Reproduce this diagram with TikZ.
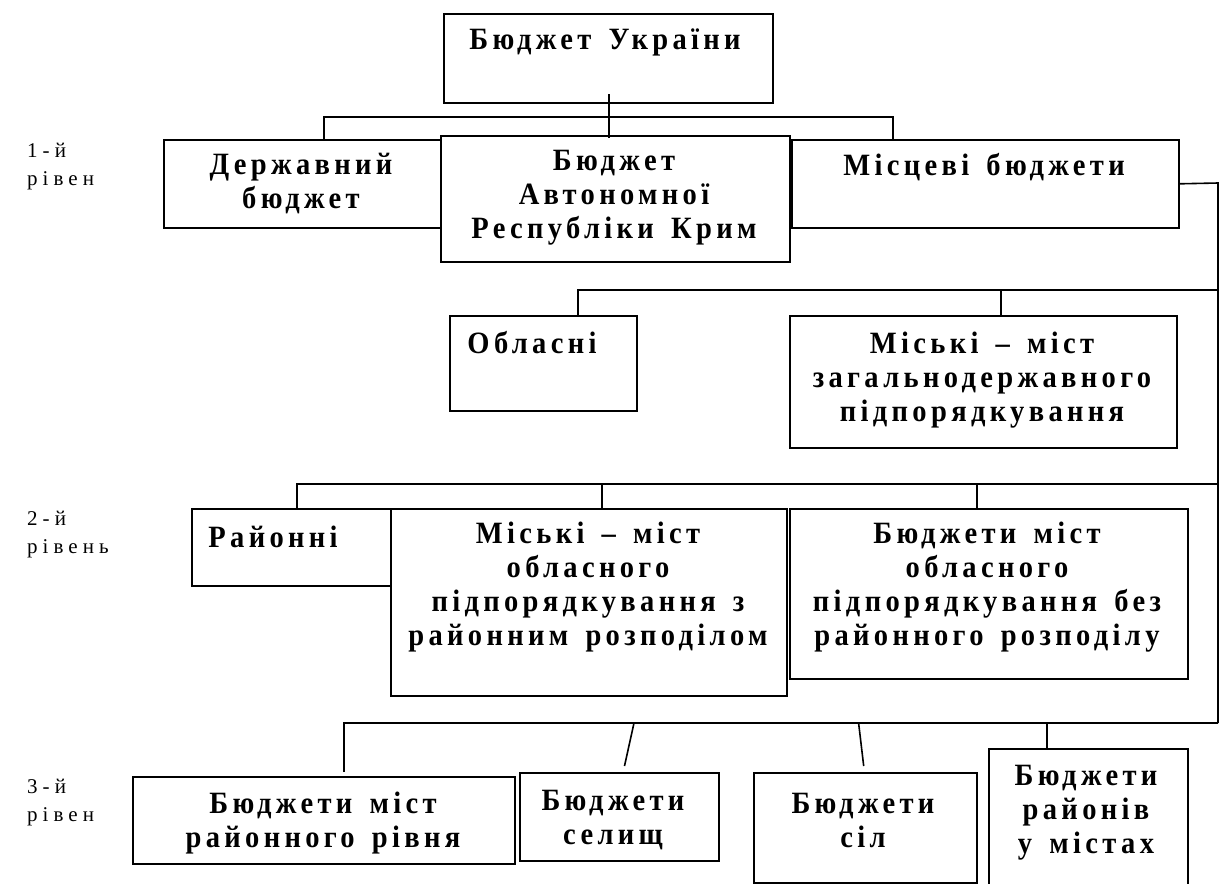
\documentclass[tikz,border=0pt]{standalone}
\usepackage{fontspec}
\setmainfont{Liberation Serif}
\newfontfamily\tbf{Liberation Serif}[FakeStretch=0.92,LetterSpace=14,WordSpace=1.5]
\newfontfamily\tlab{Liberation Serif}[LetterSpace=24]
\begin{document}
\begin{tikzpicture}[x=1pt,y=-1pt,
  box/.style={draw, line width=1.6pt, inner sep=0pt, anchor=north west},
  txt/.style={inner sep=0pt, align=center, font=\tbf\bfseries\fontsize{31}{34}\selectfont},
  lab/.style={inner sep=0pt, align=left, anchor=west, font=\tlab\fontsize{21}{28}\selectfont},
  conn/.style={line width=1.6pt}]
\useasboundingbox (0,0) rectangle (1219,884);
% boxes
\node[box, minimum width=329pt, minimum height=89pt] (ukr) at (443,13) {};
\node[box, minimum width=277pt, minimum height=88pt] (derzh) at (163,139) {};
\node[box, minimum width=349pt, minimum height=126pt] (ark) at (440,135) {};
\node[box, minimum width=387pt, minimum height=88pt] (misc) at (791,139) {};
\node[box, minimum width=187pt, minimum height=95pt] (obl) at (449,315) {};
\node[box, minimum width=387pt, minimum height=132pt] (mzag) at (789,315) {};
\node[box, minimum width=199pt, minimum height=77pt] (rai) at (191,508) {};
\node[box, minimum width=396pt, minimum height=187pt] (mobl) at (390,508) {};
\node[box, minimum width=398pt, minimum height=170pt] (bobl) at (789,508) {};
\node[box, minimum width=382pt, minimum height=87pt] (braj) at (132,776) {};
\node[box, minimum width=199pt, minimum height=88pt] (bsel) at (519,772) {};
\node[box, minimum width=223pt, minimum height=110pt] (bsil) at (753,772) {};
\node[box, minimum width=199pt, minimum height=152pt] (brmist) at (988,748) {};
% texts
\node[txt] (ukr-t) at (605,42) {Бюджет України};
\node[txt] (derzh-t) at (301,184) {Державний\\бюджет};
\node[txt] (ark-t) at (614,198) {Бюджет\\Автономної\\Республіки Крим};
\node[txt] (misc-t) at (984,167) {Місцеві бюджети};
\node[txt] (obl-t) at (532,343) {Обласні};
\node[txt] (mzag-t) at (982,380) {Міські – міст\\загальнодержавного\\підпорядкування};
\node[txt] (rai-t) at (273,537) {Районні};
\node[txt] (mobl-t) at (588,587.5) {Міські – міст\\обласного\\підпорядкування з\\районним розподілом};
\node[txt] (bobl-t) at (987,587.5) {Бюджети міст\\обласного\\підпорядкування без\\районного розподілу};
\node[txt] (braj-t) at (323,823.5) {Бюджети міст\\районного рівня};
\node[txt] (bsel-t) at (613,820) {Бюджети\\селищ};
\node[txt] (bsil-t) at (863,820) {Бюджети\\сіл};
\node[txt] (brmist-t) at (1086,812.5) {Бюджети\\районів\\у містах};
% level labels
\node[lab] (l1) at (27,167) {1-й\\рівен};
\node[lab] (l2) at (27,535) {2-й\\рівень};
\node[lab] (l3) at (27,803) {3-й\\рівен};
% bus coordinates
\coordinate (b1l) at (324,117);
\coordinate (b1r) at (893,117);
\coordinate (u1) at (609,94);
\coordinate (u2) at (609,138);
\coordinate (rtop) at (1218,183);
\coordinate (rbot) at (1218,723);
\coordinate (b2l) at (578,290);
\coordinate (b2m) at (1001,290);
\coordinate (b2r) at (1218,290);
\coordinate (b3l) at (297,484);
\coordinate (b3m) at (602,484);
\coordinate (b3n) at (977,484);
\coordinate (b3r) at (1218,484);
\coordinate (b4l) at (344,723);
\coordinate (b4a) at (634,723);
\coordinate (b4b) at (858.6,723);
\coordinate (b4c) at (1047,723);
\coordinate (s1) at (624.5,766);
\coordinate (s2) at (863.7,766);
\coordinate (e1) at (344,772);
% connectors
\draw[conn] (u1) -- (u2);
\draw[conn] (b1l |- derzh.north) -- (b1l) -- (b1r) -- (b1r |- misc.north);
\draw[conn] (misc.east) -- (rtop) -- (rbot);
\draw[conn] (b2l |- obl.north) -- (b2l) -- (b2r);
\draw[conn] (b2m) -- (b2m |- mzag.north);
\draw[conn] (b3l |- rai.north) -- (b3l) -- (b3r);
\draw[conn] (b3m) -- (b3m |- mobl.north);
\draw[conn] (b3n) -- (b3n |- bobl.north);
\draw[conn] (e1) -- (b4l) -- (rbot);
\draw[conn] (b4a) -- (s1);
\draw[conn] (b4b) -- (s2);
\draw[conn] (b4c) -- (b4c |- brmist.north);
\end{tikzpicture}
\end{document}
